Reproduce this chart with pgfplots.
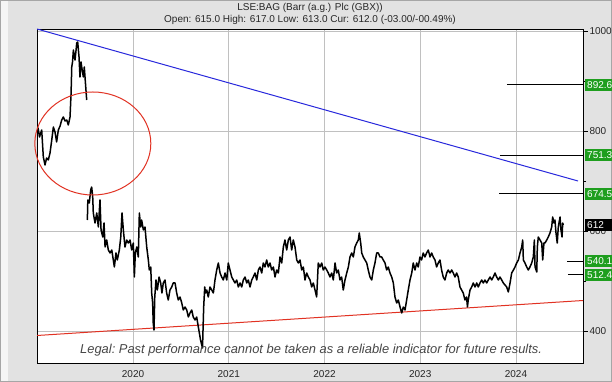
\documentclass[border=0pt]{standalone}
\usepackage{pgfplots}
\pgfplotsset{compat=1.18}
\usepackage{fontspec}
\setmainfont{Liberation Sans}
\definecolor{bgcol}{RGB}{226,226,226}
\definecolor{gridcol}{RGB}{192,192,192}
\definecolor{labgreen}{RGB}{30,158,30}
\definecolor{trendblue}{RGB}{40,40,220}
\definecolor{trendred}{RGB}{225,50,35}
\begin{document}
\begin{tikzpicture}
\useasboundingbox (0,0) rectangle (612bp,382bp);
\fill[bgcol] (0,0) rectangle (612bp,382bp);
\fill[white!92!gray] (0,0) rectangle (8bp,382bp);
\draw[gray!70,line width=1.2bp] (0.6bp,0.6bp) rectangle (611.4bp,381.4bp);
\node[font=\fontsize{10bp}{12bp}\selectfont,text=black!85] at (310bp,374bp) {LSE:BAG (Barr (a.g.) Plc (GBX))};
\node[font=\fontsize{10bp}{12bp}\selectfont,text=black!85] at (310bp,362bp) {Open: 615.0 High: 617.0 Low: 613.0 Cur: 612.0 (-03.00/-00.49\%)};
\begin{axis}[
  at={(37bp,19bp)}, anchor=south west,
  scale only axis, width=546bp, height=334bp,
  xmin=2018.997, xmax=2024.70, ymin=336, ymax=1004,
  axis background/.style={fill=white},
  axis line style={black, line width=0.8bp},
  clip mode=individual,
  xtick={2020,2021,2022,2023,2024},
  xticklabels={2020,2021,2022,2023,2024},
  ytick={400,600,800,1000},
  yticklabels={400,600,800,1000},
  minor ytick={500,700,900},
  ytick pos=right, yticklabel pos=right,
  xtick style={draw=none},
  major tick length=5bp, minor tick length=3bp,
  ytick style={black, line width=0.6bp},
  tick align=outside,
  grid=major,
  major grid style={gridcol, line width=0.8bp},
  /pgf/number format/assume math mode=true,
  tick label style={font=\fontsize{10bp}{12bp}\selectfont, text=black!85},
  yticklabel style={anchor=west, xshift=-2bp},
  xticklabel style={yshift=1bp},
]
% support trend
\addplot[trendred, line width=1bp] coordinates {(2018.997,391) (2024.70,461)};
% resistance trend
\addplot[trendblue, line width=1bp] coordinates {(2018.997,1004) (2024.648,700)};
% target lines
\addplot[black, line width=0.8bp] coordinates {(2023.906,892.6) (2024.70,892.6)};
\addplot[black, line width=0.8bp] coordinates {(2023.833,751.3) (2024.70,751.3)};
\addplot[black, line width=0.8bp] coordinates {(2023.823,674.5) (2024.70,674.5)};
\addplot[black, line width=0.8bp] coordinates {(2024.533,540.1) (2024.70,540.1)};
\addplot[black, line width=0.8bp] coordinates {(2024.543,512.4) (2024.70,512.4)};
% price, part 1
\addplot[black, line width=1.5bp, line join=round] coordinates {
(2018.994,796) (2019.008,806) (2019.023,788) (2019.046,802) (2019.063,748) (2019.081,732)
(2019.097,746) (2019.115,742) (2019.133,756) (2019.151,782) (2019.168,808) (2019.185,798)
(2019.202,778) (2019.220,802) (2019.238,810) (2019.255,822) (2019.272,828) (2019.290,820)
(2019.308,822) (2019.324,812) (2019.342,828) (2019.353,876) (2019.360,928) (2019.368,938)
(2019.377,962) (2019.385,952) (2019.394,942) (2019.405,962) (2019.412,976) (2019.422,978)
(2019.436,948) (2019.446,908) (2019.457,938) (2019.464,928) (2019.481,908) (2019.491,928)
(2019.506,888) (2019.516,862)
};
% price, part 2
\addplot[black, line width=1.5bp, line join=round] coordinates {
(2019.523,622) (2019.528,662) (2019.543,656) (2019.558,682) (2019.568,688) (2019.579,668)
(2019.585,636) (2019.603,616) (2019.621,636) (2019.638,608) (2019.655,662) (2019.666,602)
(2019.684,588) (2019.697,616) (2019.708,568) (2019.725,582) (2019.742,562) (2019.760,556)
(2019.778,562) (2019.794,542) (2019.805,528) (2019.822,556) (2019.836,542) (2019.857,562)
(2019.872,588) (2019.885,636) (2019.899,602) (2019.916,568) (2019.934,582) (2019.951,576)
(2019.969,582) (2019.986,562) (2020.003,576) (2020.014,508) (2020.024,556) (2020.039,568)
(2020.055,548) (2020.066,636) (2020.080,608) (2020.090,622) (2020.108,602) (2020.125,608)
(2020.143,568) (2020.160,542) (2020.170,522) (2020.185,528) (2020.195,476) (2020.205,456)
(2020.211,416) (2020.219,402) (2020.227,468) (2020.240,502) (2020.254,482) (2020.272,508)
(2020.289,496) (2020.302,476) (2020.316,496) (2020.334,502) (2020.351,476) (2020.368,462)
(2020.386,482) (2020.404,488) (2020.420,496) (2020.439,496) (2020.456,476) (2020.473,462)
(2020.491,468) (2020.509,456) (2020.525,442) (2020.543,448) (2020.561,442) (2020.578,428)
(2020.595,436) (2020.613,442) (2020.629,428) (2020.648,422) (2020.665,428) (2020.682,408)
(2020.693,396) (2020.705,382) (2020.718,372) (2020.726,366) (2020.731,402) (2020.738,448)
(2020.749,488) (2020.757,476) (2020.770,482) (2020.786,468) (2020.804,488) (2020.822,482)
(2020.839,476) (2020.856,502) (2020.874,522) (2020.891,536) (2020.909,516) (2020.926,508)
(2020.943,502) (2020.961,516) (2020.979,502) (2020.995,536) (2021.013,522) (2021.031,508)
(2021.048,502) (2021.065,496) (2021.083,502) (2021.100,488) (2021.118,496) (2021.135,488)
(2021.152,502) (2021.170,508) (2021.188,496) (2021.204,502) (2021.222,488) (2021.240,502)
(2021.256,508) (2021.274,516) (2021.292,502) (2021.309,522) (2021.326,528) (2021.344,516)
(2021.361,536) (2021.378,528) (2021.396,542) (2021.413,528) (2021.431,536) (2021.448,522)
(2021.466,528) (2021.483,508) (2021.500,522) (2021.518,516) (2021.535,548) (2021.553,536)
(2021.570,568) (2021.587,582) (2021.605,562) (2021.622,582) (2021.640,588) (2021.657,562)
(2021.674,582) (2021.692,568) (2021.710,542) (2021.727,536) (2021.744,542) (2021.762,522)
(2021.779,528) (2021.796,502) (2021.814,516) (2021.831,508) (2021.849,502) (2021.866,488)
(2021.883,496) (2021.901,482) (2021.918,468) (2021.935,536) (2021.953,528) (2021.971,536)
(2021.987,522) (2022.005,528) (2022.023,522) (2022.040,516) (2022.057,508) (2022.075,516)
(2022.092,502) (2022.110,536) (2022.127,516) (2022.144,522) (2022.162,502) (2022.179,508)
(2022.196,482) (2022.214,502) (2022.232,516) (2022.249,528) (2022.266,548) (2022.284,556)
(2022.301,548) (2022.318,568) (2022.336,576) (2022.353,582) (2022.363,596) (2022.378,576)
(2022.389,556) (2022.405,548) (2022.423,542) (2022.441,536) (2022.457,522) (2022.475,508)
(2022.493,502) (2022.510,522) (2022.527,536) (2022.545,556) (2022.562,556) (2022.580,548)
(2022.597,548) (2022.614,542) (2022.632,536) (2022.649,522) (2022.666,528) (2022.684,516)
(2022.702,508) (2022.719,496) (2022.736,468) (2022.754,456) (2022.771,462) (2022.789,448)
(2022.806,436) (2022.823,448) (2022.841,442) (2022.858,462) (2022.875,482) (2022.893,502)
(2022.911,516) (2022.927,536) (2022.945,522) (2022.963,536) (2022.979,528) (2022.997,548)
(2023.014,542) (2023.031,556) (2023.049,548) (2023.066,556) (2023.084,562) (2023.102,548)
(2023.119,556) (2023.136,548) (2023.154,542) (2023.171,528) (2023.188,536) (2023.206,542)
(2023.223,522) (2023.240,508) (2023.258,502) (2023.276,516) (2023.292,522) (2023.311,516)
(2023.328,522) (2023.345,516) (2023.363,508) (2023.380,516) (2023.397,508) (2023.415,488)
(2023.432,482) (2023.449,476) (2023.467,462) (2023.484,468) (2023.493,448) (2023.501,462)
(2023.520,482) (2023.537,488) (2023.554,496) (2023.572,488) (2023.590,496) (2023.606,488)
(2023.624,496) (2023.642,502) (2023.659,496) (2023.676,502) (2023.694,496) (2023.711,502)
(2023.729,508) (2023.746,502) (2023.763,508) (2023.781,516) (2023.798,508) (2023.816,502)
(2023.833,508) (2023.868,496) (2023.903,488) (2023.920,478) (2023.938,496) (2023.955,516)
(2023.973,522) (2023.990,528) (2024.007,536) (2024.025,542) (2024.042,556) (2024.060,568)
(2024.070,582) (2024.077,542) (2024.094,536) (2024.112,528) (2024.129,522) (2024.146,528)
(2024.164,536) (2024.181,548) (2024.192,582) (2024.199,528) (2024.217,518) (2024.223,568)
(2024.233,588) (2024.251,582) (2024.269,576) (2024.279,542) (2024.292,576) (2024.303,576)
(2024.321,582) (2024.337,588) (2024.355,596) (2024.373,608) (2024.383,628) (2024.397,616)
(2024.407,622) (2024.418,596) (2024.431,576) (2024.442,608) (2024.460,628) (2024.470,602)
(2024.481,588) (2024.488,616) (2024.494,612)
};
% highlight ellipse
\draw[trendred, line width=1bp] (axis cs:2019.58,775) ellipse [x radius=58bp, y radius=51.5bp];
% legal text
\node[font=\itshape\fontsize{12.9bp}{15bp}\selectfont, text=black!72] at (axis cs:2021.86,362) {Legal:\ Past performance cannot be taken as a reliable indicator for future results.};
% right-hand labels
\begin{scope}[every node/.style={anchor=west, xshift=2bp, minimum height=12bp, inner ysep=0pt, inner xsep=2bp, text width=28bp, align=left, text=white, font=\fontsize{10bp}{12bp}\selectfont}]
\node[fill=labgreen] at (axis cs:2024.70,892.6) {892.6};
\node[fill=labgreen] at (axis cs:2024.70,751.3) {751.3};
\node[fill=labgreen] at (axis cs:2024.70,674.5) {674.5};
\node[fill=labgreen] at (axis cs:2024.70,540.1) {540.1};
\node[fill=labgreen] at (axis cs:2024.70,512.4) {512.4};
\node[fill=black] at (axis cs:2024.70,612) {612};
\end{scope}
\end{axis}
\end{tikzpicture}
\end{document}
